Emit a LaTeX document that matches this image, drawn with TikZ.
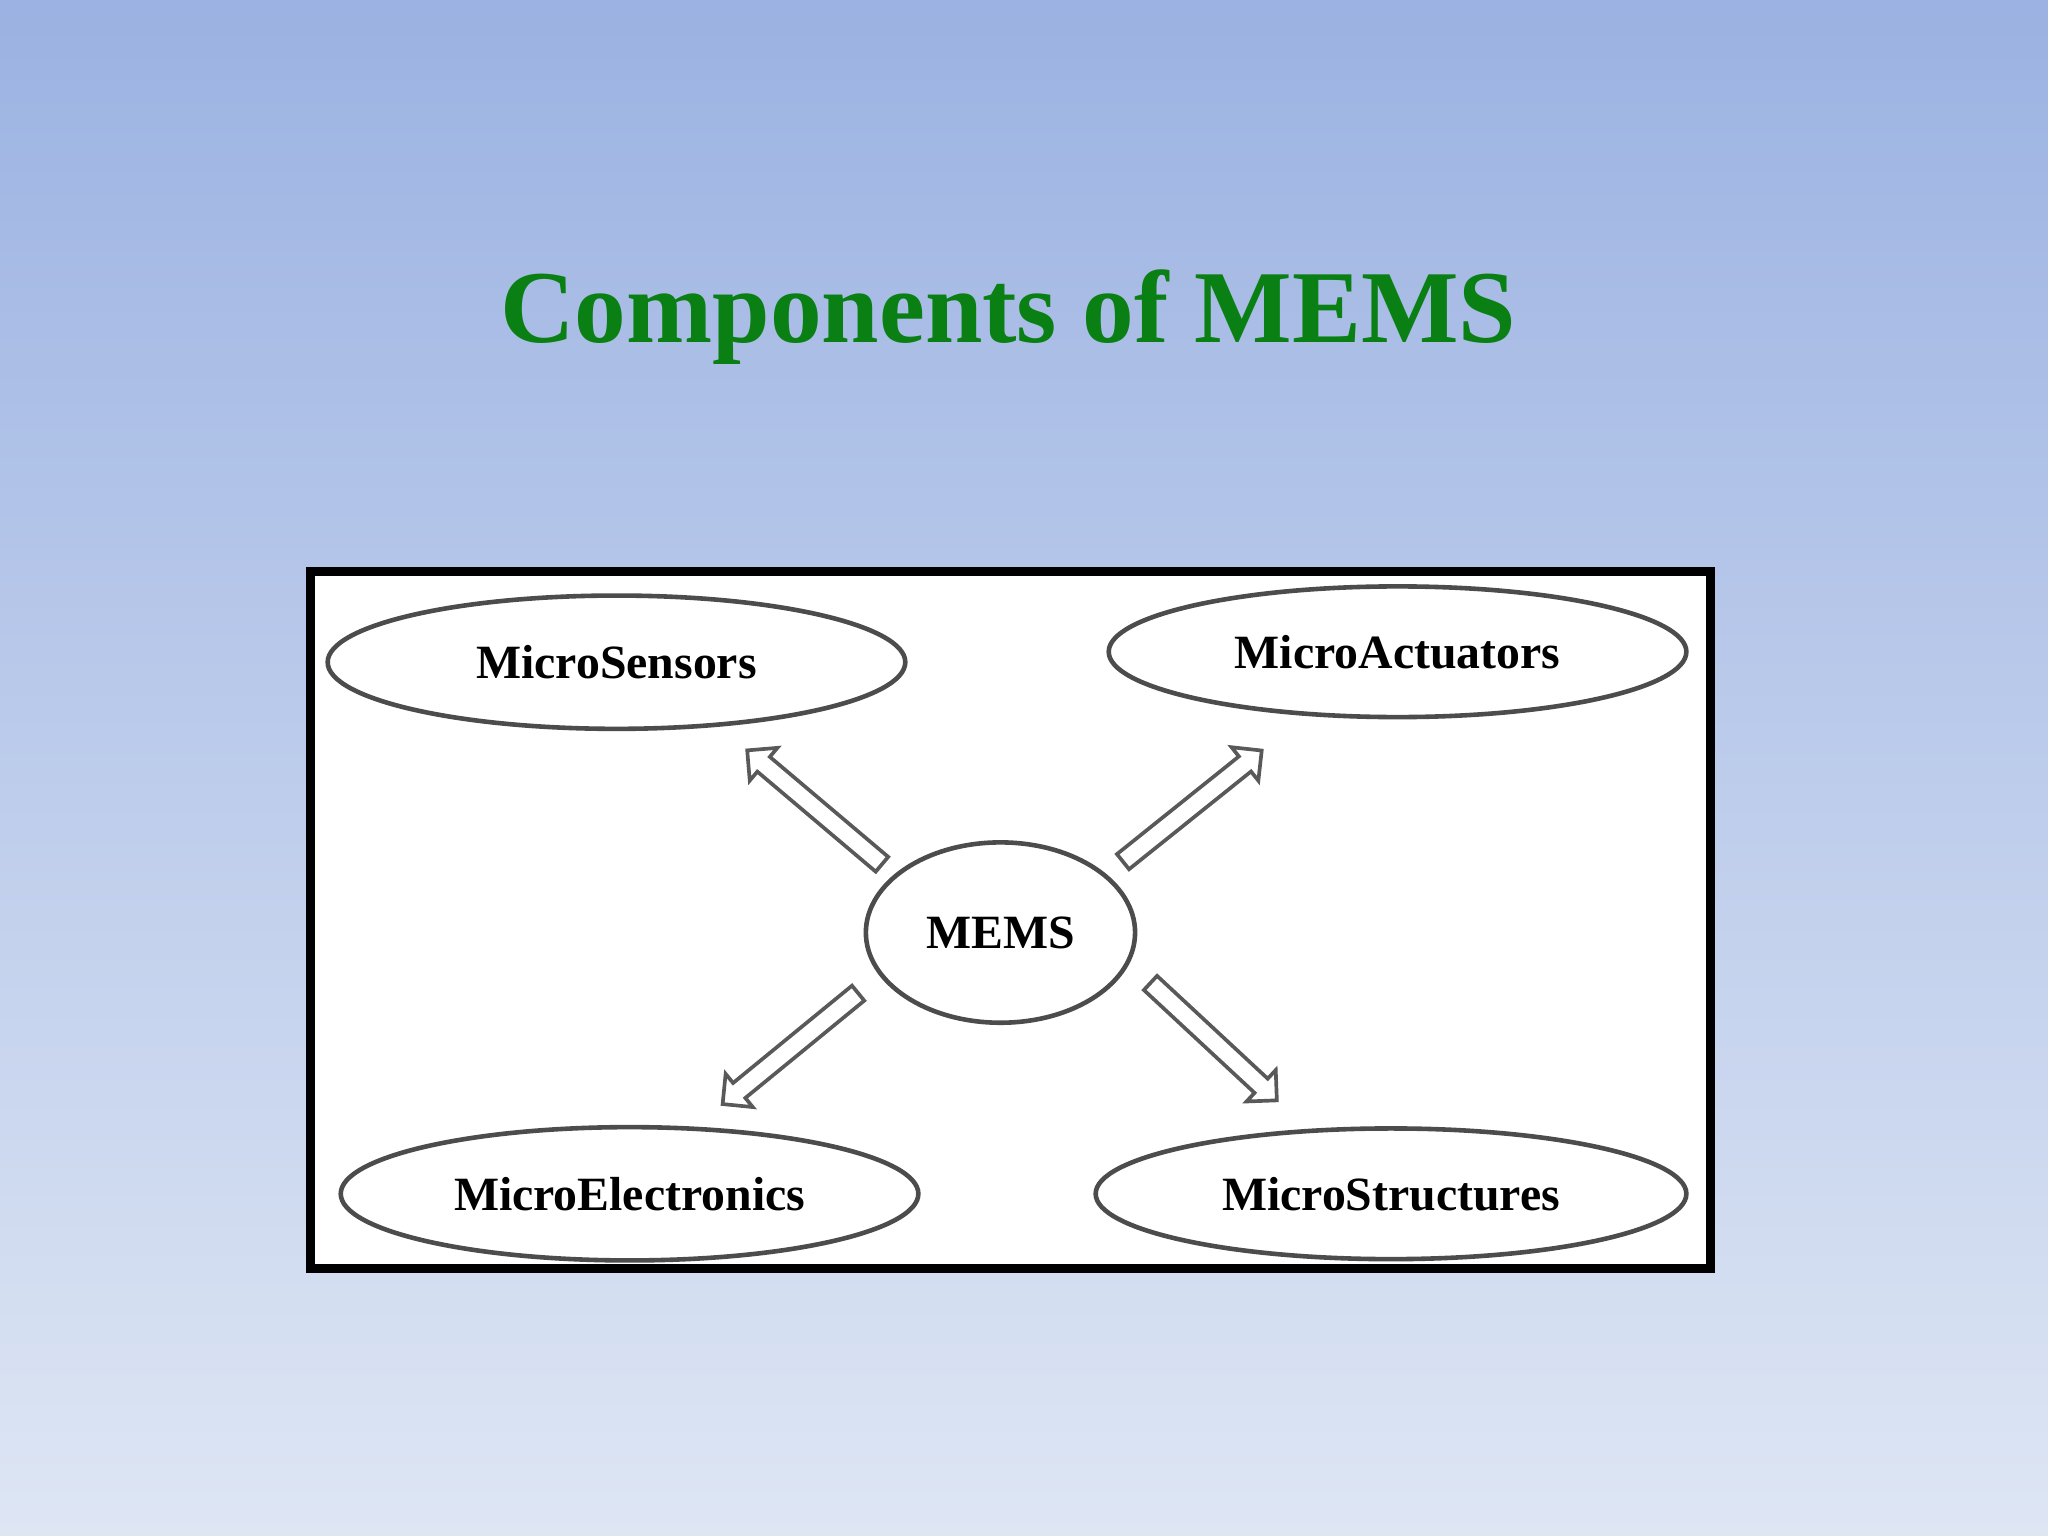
\documentclass[tikz,border=0pt]{standalone}
\usepackage{fontspec}
\setmainfont{Liberation Serif}
\usetikzlibrary{shapes.geometric,shapes.arrows}
\definecolor{bgtop}{RGB}{155,178,226}
\definecolor{bgbot}{RGB}{222,230,244}
\definecolor{ttl}{RGB}{10,128,20}
\tikzset{
 oval/.style={draw=black!70,line width=1pt,ellipse,inner sep=0pt,font=\fontsize{10.4}{12}\selectfont\bfseries},
 blk/.style={draw=black!65,line width=0.8pt,fill=white,single arrow,inner sep=0.06cm,minimum width=0.3cm,single arrow head extend=0.09cm,single arrow head indent=0cm}
}
\begin{document}
\begin{tikzpicture}[x=0.01cm,y=-0.01cm]
\shade[top color=bgtop,bottom color=bgbot] (0,0) rectangle (1568,1176);
\useasboundingbox (0,0) rectangle (1568,1176);
\node[text=ttl,font=\fontsize{22.5}{26}\selectfont\bfseries] (title) at (772,243) {Components of MEMS};
\node[draw=black,fill=white,line width=2pt,minimum width=10.71cm,minimum height=5.33cm,inner sep=0pt] (frame) at (773.5,704.5) {};
\node[oval,minimum width=4.42cm,minimum height=1.02cm] (s) at (472,507) {MicroSensors};
\node[oval,minimum width=4.42cm,minimum height=1.00cm] (a) at (1070,499) {MicroActuators};
\node[oval,minimum width=4.42cm,minimum height=1.02cm] (e) at (482,914) {MicroElectronics};
\node[oval,minimum width=4.52cm,minimum height=1.00cm] (st) at (1065,914) {MicroStructures};
\node[oval,minimum width=2.06cm,minimum height=1.38cm] (m) at (766,714) {MEMS};
\node[blk,minimum height=1.35cm,rotate=139.8] (a1) at (626.5,620.5) {};
\node[blk,minimum height=1.36cm,rotate=38.7] (a2) at (910,619.5) {};
\node[blk,minimum height=1.34cm,rotate=219.3] (a3) at (608,800.5) {};
\node[blk,minimum height=1.32cm,rotate=-42.9] (a4) at (926.5,795) {};
\end{tikzpicture}
\end{document}
